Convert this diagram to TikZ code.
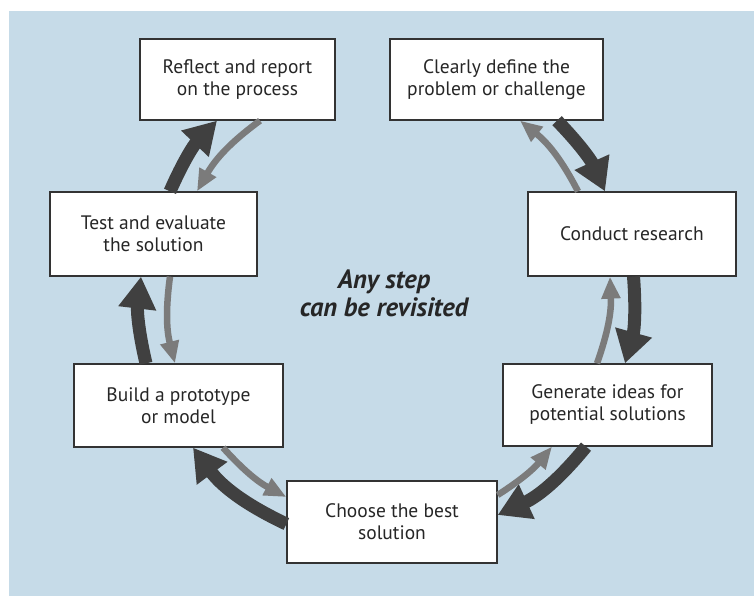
\documentclass[tikz,border=0pt]{standalone}
\usepackage{fontspec}
\setmainfont{PT Sans}
\usetikzlibrary{arrows.meta}
\definecolor{bg}{HTML}{C6DBE8}
\definecolor{darkarr}{HTML}{404040}
\definecolor{grayarr}{HTML}{7B7B7B}
\definecolor{boxline}{HTML}{333333}
\begin{document}
\begin{tikzpicture}[x=1pt,y=1pt,
  stepbox/.style={draw=boxline, line width=1.3pt, fill=white, align=center,
    font=\fontsize{19.5}{22}\selectfont, text=black!85, inner sep=0pt},
  fwd/.style={draw=darkarr, line width=13pt, -{Triangle[length=32pt,width=36pt]}},
  back/.style={draw=grayarr, line width=6.5pt, -{Triangle[length=22pt,width=18pt]}}]
\useasboundingbox (0,0) rectangle (754,596);
\fill[bg] (9,0) rectangle (754,585);
% boxes
\node[stepbox, minimum width=195pt, minimum height=81pt] (reflect) at (237.5,516.5) {Reflect and report\\on the process};
\node[stepbox, minimum width=213pt, minimum height=81pt] (clear) at (496.5,516.5) {Clearly define the\\problem or challenge};
\node[stepbox, minimum width=208pt, minimum height=84pt] (conduct) at (632,362) {Conduct research};
\node[stepbox, minimum width=209pt, minimum height=82pt] (generate) at (607.5,191) {Generate ideas for\\potential solutions};
\node[stepbox, minimum width=210pt, minimum height=82pt] (choose) at (392,74) {Choose the best\\solution};
\node[stepbox, minimum width=209pt, minimum height=83pt] (build) at (178.5,190.5) {Build a prototype\\or model};
\node[stepbox, minimum width=207pt, minimum height=84pt] (test) at (153.5,362) {Test and evaluate\\the solution};
\node[font=\bfseries\itshape\fontsize{26.5}{28}\selectfont, align=center, text=black!85] (note) at (384,303) {Any step\\can be revisited};
% forward (dark) arrows
\draw[fwd] ([xshift=60.5pt]clear.south) to[bend left=10] ([xshift=-27pt]conduct.north);
\draw[fwd] ([xshift=1.5pt]conduct.south) to[bend left=10] ([xshift=17.5pt]generate.north);
\draw[fwd] ([xshift=-21.5pt]generate.south) to[bend left=13] ([yshift=7pt]choose.east);
\draw[fwd] ([yshift=-2pt]choose.west) to[bend left=14] ([xshift=14.5pt]build.south);
\draw[fwd] ([xshift=-32.5pt]build.north) to[bend left=10] ([xshift=-12.5pt]test.south);
\draw[fwd] ([xshift=16.5pt]test.north) to[bend left=10] ([xshift=-20.5pt]reflect.south);
% backward (gray) arrows
\draw[back] ([xshift=-54pt]conduct.north) to[bend right=12] ([xshift=23.5pt]clear.south);
\draw[back] ([xshift=-10.5pt]generate.north) to[bend right=11] ([xshift=-22pt]conduct.south);
\draw[back] ([yshift=27pt]choose.east) to[bend right=9] ([xshift=-55.5pt]generate.south);
\draw[back] ([xshift=44.5pt]build.south) to[bend right=10] ([yshift=25pt]choose.west);
\draw[back] ([xshift=16.5pt]test.south) to[bend right=11] ([xshift=-3.5pt]build.north);
\draw[back] ([xshift=22.5pt]reflect.south) to[bend right=12] ([xshift=43.5pt]test.north);
\end{tikzpicture}
\end{document}
